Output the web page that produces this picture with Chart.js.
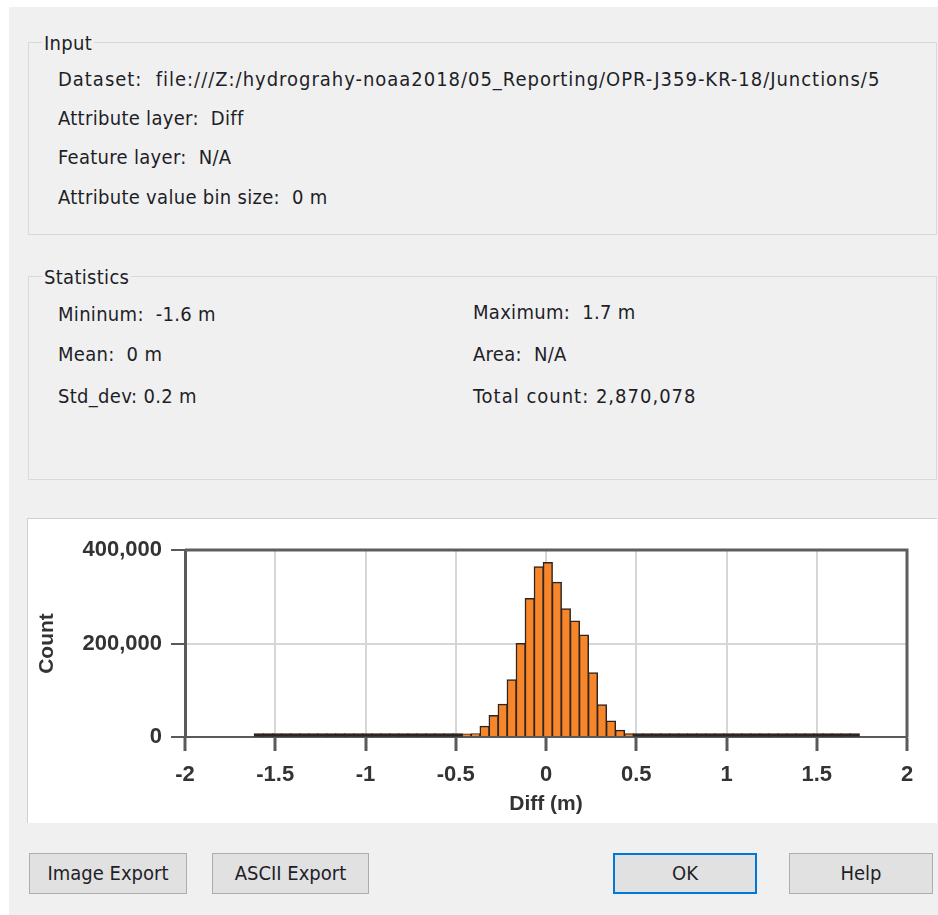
<!DOCTYPE html>
<html><head><meta charset="utf-8">
<script src="https://cdn.jsdelivr.net/npm/chart.js@4.4.1/dist/chart.umd.min.js"></script>
<style>
html,body{margin:0;padding:0;background:#fff;width:938px;height:915px;overflow:hidden;position:relative;}
#dlg{position:absolute;left:9px;top:7px;width:929px;height:908px;background:#f0f0f0;}
.ui{font-family:"DejaVu Sans Condensed","DejaVu Sans",sans-serif;font-stretch:condensed;font-size:20px;color:#1e1e28;letter-spacing:0.3px;}
.box{position:absolute;border:1px solid #d9d9d9;box-sizing:border-box;}
.legend{position:absolute;background:#f0f0f0;padding:0 2px;line-height:24px;white-space:nowrap;}
.t{position:absolute;line-height:24px;white-space:nowrap;}
.clip{overflow:hidden;}
#panel{position:absolute;left:27px;top:518px;width:910px;height:305px;background:#fff;border-top:1px solid #d0d0d0;border-left:1px solid #d0d0d0;box-sizing:border-box;}
#c{position:absolute;left:27px;top:518px;}
.btn{position:absolute;top:853px;height:41px;background:#e1e1e1;border:1px solid #adadad;box-sizing:border-box;text-align:center;line-height:39px;letter-spacing:0;}
.btn.def{border:2px solid #0078d7;line-height:37px;}
</style>
</head>
<body>
<div id="dlg"></div>

<div class="box" style="left:28px;top:42px;width:909px;height:193px;"></div>
<div class="legend ui" style="left:42px;top:31px;">Input</div>
<div class="t ui clip" style="left:58px;top:67px;width:823px;letter-spacing:0.98px;">Dataset:&nbsp; file:///Z:/hydrograhy-noaa2018/05_Reporting/OPR-J359-KR-18/Junctions/5</div>
<div class="t ui" style="left:58px;top:106px;">Attribute layer:&nbsp; Diff</div>
<div class="t ui" style="left:58px;top:145px;">Feature layer:&nbsp; N/A</div>
<div class="t ui" style="left:58px;top:185px;">Attribute value bin size:&nbsp; 0 m</div>

<div class="box" style="left:28px;top:276px;width:909px;height:204px;"></div>
<div class="legend ui" style="left:42px;top:265px;">Statistics</div>
<div class="t ui" style="left:58px;top:302px;">Mininum:&nbsp; -1.6 m</div>
<div class="t ui" style="left:58px;top:342px;">Mean:&nbsp; 0 m</div>
<div class="t ui" style="left:58px;top:384px;">Std_dev: 0.2 m</div>
<div class="t ui" style="left:473px;top:300px;">Maximum:&nbsp; 1.7 m</div>
<div class="t ui" style="left:473px;top:342px;">Area:&nbsp; N/A</div>
<div class="t ui" style="left:473px;top:384px;letter-spacing:1px;">Total count: 2,870,078</div>

<div id="panel"></div>
<canvas id="c" width="910" height="305" style="width:910px;height:305px;"></canvas>

<div class="btn ui" style="left:29px;width:158px;">Image Export</div>
<div class="btn ui" style="left:212px;width:157px;">ASCII Export</div>
<div class="btn ui def" style="left:613px;width:144px;">OK</div>
<div class="btn ui" style="left:789px;width:144px;">Help</div>

<script>
// Histogram bins (centre of each 0.05 m bin) and counts
const binCenters = [
  -1.59,-1.54,-1.49,-1.44,-1.39,-1.34,-1.29,-1.24,-1.19,-1.14,-1.09,-1.04,-0.99,-0.94,-0.89,-0.84,-0.79,-0.74,-0.69,-0.64,-0.59,-0.54,
  -0.49,-0.44,-0.39,-0.34,-0.29,-0.24,-0.19,-0.14,-0.09,-0.04,0.01,0.06,0.11,0.16,0.21,0.26,0.31,0.36,0.41,0.46,0.51,
  0.56,0.61,0.66,0.71,0.76,0.81,0.86,0.91,0.96,1.01,1.06,1.11,1.16,1.21,1.26,1.31,1.36,1.41,1.46,1.51,1.56,1.61,1.66,1.71
];
const counts = [
  40,30,35,40,45,50,55,60,70,80,95,110,130,160,200,260,330,420,540,700,900,1100,
  1500,3000,7000,23000,46000,70000,122000,200000,296000,364000,373000,331000,274000,248000,218000,137000,69000,34000,14000,6500,1500,
  1000,800,600,450,350,280,220,180,150,120,100,90,80,70,60,55,50,45,40,35,30,30,25,20,20
];
const xTickValues = [-2,-1.5,-1,-0.5,0,0.5,1,1.5,2];
const xTickLabels = ['-2','-1.5','-1','-0.5','0','0.5','1','1.5','2'];
const yTickValues = [0,200000,400000];
const yTickLabels = ['0','200,000','400,000'];
const xTitle = 'Diff (m)';
const yTitle = 'Count';

const barFill = '#f7862b';
const barEdge = '#2e2520';
const tickFont = {family:'"Liberation Sans", Arial, sans-serif', weight:'bold', size:22};
const titleFont = {family:'"Liberation Sans", Arial, sans-serif', weight:'bold', size:21};

const framePlugin = {
  id:'frame',
  afterDatasetsDraw(chart){
    const {ctx, chartArea:a} = chart;
    ctx.save();
    ctx.strokeStyle = '#5e5e5e';
    ctx.lineWidth = 3;
    ctx.beginPath();
    ctx.moveTo(a.left, a.top);
    ctx.lineTo(a.right, a.top);
    ctx.lineTo(a.right, a.bottom);
    ctx.stroke();
    ctx.restore();
  }
};

new Chart(document.getElementById('c'), {
  type:'bar',
  data:{datasets:[{
    data: binCenters.map((x,i)=>({x:x, y:counts[i]})),
    // bins too small to show as columns are drawn as the solid dark baseline strip
    backgroundColor: c => (c.raw && c.raw.y < 2000) ? barEdge : barFill,
    borderColor: barEdge,
    borderWidth: c => (c.raw && c.raw.y < 2000) ? 0 : 1.5,
    borderSkipped:'start',
    barPercentage:1,
    categoryPercentage:1,
    inflateAmount:0.6,
    minBarLength:3
  }]},
  options:{
    responsive:false,
    animation:false,
    layout:{padding:{top:32,right:30,left:0,bottom:0}},
    plugins:{legend:{display:false},tooltip:{enabled:false}},
    scales:{
      x:{
        type:'linear', min:-2, max:2, offset:false,
        afterBuildTicks:s=>{ s.ticks = xTickValues.map(v=>({value:v})); },
        afterFit:s=>{ s.height = 86; },
        grid:{offset:false,color:'#d6d6d6',lineWidth:2,tickColor:'#5a5a5a',tickWidth:3,tickLength:14},
        border:{color:'#5a5a5a',width:2},
        ticks:{callback:v=>xTickLabels[xTickValues.indexOf(v)], font:tickFont, color:'#333', padding:11, maxRotation:0, autoSkip:false},
        title:{display:true,text:xTitle,font:titleFont,color:'#333',padding:{top:0,bottom:6}}
      },
      y:{
        type:'linear', min:0, max:400000,
        afterBuildTicks:s=>{ s.ticks = yTickValues.map(v=>({value:v})); },
        afterFit:s=>{ s.width = 158; },
        grid:{color:'#d6d6d6',lineWidth:2,tickColor:'#5a5a5a',tickWidth:2,tickLength:14},
        border:{color:'#5a5a5a',width:3},
        ticks:{callback:v=>yTickLabels[yTickValues.indexOf(v)], font:tickFont, color:'#333', padding:9, autoSkip:false},
        title:{display:true,text:yTitle,font:titleFont,color:'#333',padding:{top:8,bottom:0}}
      }
    }
  },
  plugins:[framePlugin]
});
</script>
</body></html>
